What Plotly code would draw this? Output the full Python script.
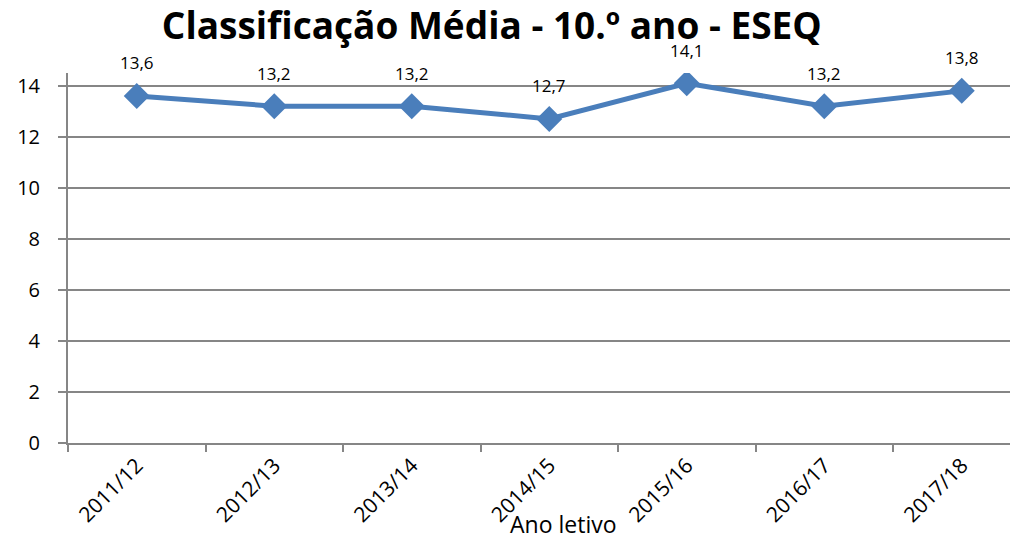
import plotly.graph_objects as go

categories = ["2011/12", "2012/13", "2013/14", "2014/15", "2015/16", "2016/17", "2017/18"]
values = [13.6, 13.2, 13.2, 12.7, 14.1, 13.2, 13.8]
labels = ["13,6", "13,2", "13,2", "12,7", "14,1", "13,2", "13,8"]
y_ticks = [0, 2, 4, 6, 8, 10, 12, 14]

FONT = "Open Sans"
BLUE = "#4A7EBB"
GREY = "#868686"

fig = go.Figure()
fig.add_trace(go.Scatter(
    x=categories, y=values, mode="lines+markers",
    line=dict(color=BLUE, width=5),
    marker=dict(symbol="diamond", size=20, color=BLUE),
    hoverinfo="skip", showlegend=False,
))

for c, v, t in zip(categories, values, labels):
    fig.add_annotation(x=c, y=v, text=t, showarrow=False, yshift=33,
                       font=dict(family=FONT, size=17, color="#000"))

fig.add_annotation(x=0.522, xref="paper", y=-0.17, yref="paper", yanchor="top",
                   xanchor="center", text="Ano letivo", showarrow=False,
                   font=dict(family=FONT, size=23, color="#000"))

fig.update_layout(
    width=1010, height=526,
    margin=dict(l=60, r=0, t=65, b=91, autoexpand=False),
    paper_bgcolor="white", plot_bgcolor="white",
    title=dict(text="<b>Classificação Média - 10.º ano - ESEQ</b>",
               x=0.479, xanchor="center", y=0.99, yanchor="top",
               font=dict(family=FONT, size=37, color="#000"), automargin=False),
    font=dict(family=FONT, color="#000"),
)

fig.update_xaxes(
    type="category", categoryorder="array", categoryarray=categories,
    range=[-0.5, 6.409], tickson="boundaries", automargin=False,
    ticks="outside", ticklen=7, tickwidth=2, tickcolor=GREY,
    showline=True, linecolor=GREY, linewidth=2, showgrid=False,
    tickangle=-45, tickfont=dict(family=FONT, size=21, color="#000"),
)
fig.update_yaxes(
    range=[0, 14.5], tickvals=y_ticks, ticktext=[str(v) for v in y_ticks],
    ticks="outside", ticklen=8, tickwidth=2, tickcolor=GREY, automargin=False,
    showline=True, linecolor=GREY, linewidth=2,
    showgrid=True, gridcolor=GREY, gridwidth=1.5, zeroline=False,
    tickfont=dict(family=FONT, size=20, color="#000"), ticklabelstandoff=14,
)

fig.write_html("out.html")
